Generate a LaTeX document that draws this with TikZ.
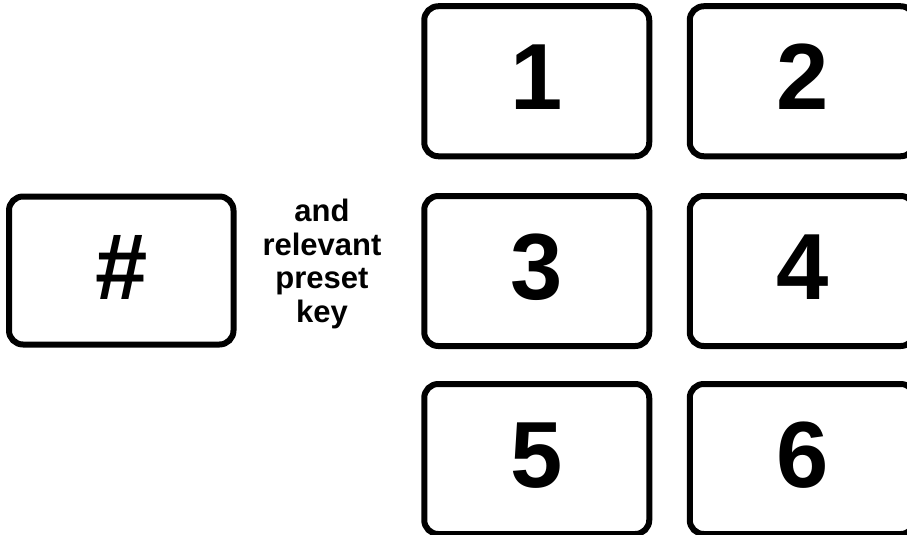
\documentclass[tikz,border=0pt]{standalone}
\usepackage{fontspec}
\setmainfont{Liberation Sans}
\begin{document}
\begin{tikzpicture}[x=1pt,y=-1pt,
  key/.style={draw=black, line width=6pt, rounded corners=14pt, inner sep=0pt,
    minimum width=225pt, minimum height=150pt,
    font=\bfseries\fontsize{94}{94}\selectfont, text height=67pt, text depth=10pt},
  note/.style={align=center, font=\bfseries\fontsize{31}{33.5}\selectfont, inner sep=0pt}]
\useasboundingbox (0,0) rectangle (907,535);
\node[key] (k1) at (536.75,81.25) {1};
\node[key] (k2) at (802.25,81.25) {2};
\node[key] (k3) at (536.75,271) {3};
\node[key] (k4) at (802.25,271) {4};
\node[key] (k5) at (536.75,459) {5};
\node[key] (k6) at (802.25,459) {6};
\node[key, minimum width=224.5pt, minimum height=148pt] (hash) at (121.25,270.5) {\#};
\node[note] (txt) at (322,264) {and\\relevant\\preset\\key};
\end{tikzpicture}
\end{document}
